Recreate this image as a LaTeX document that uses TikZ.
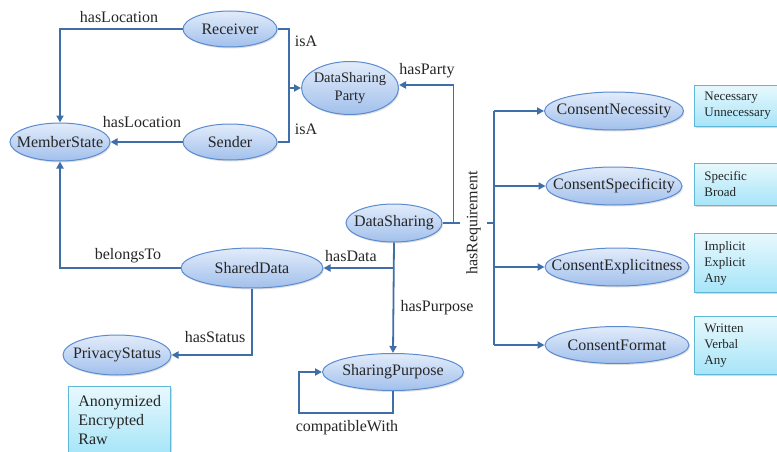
\documentclass[tikz,border=0pt]{standalone}
\usepackage{fontspec}
\setmainfont{Liberation Serif}
\usetikzlibrary{arrows.meta,shapes.geometric,shadows}
\definecolor{clsedge}{HTML}{5B8BD0}
\definecolor{clstop}{HTML}{E2ECFA}
\definecolor{clsbot}{HTML}{A2C0EC}
\definecolor{valedge}{HTML}{5FB8D6}
\definecolor{valtop}{HTML}{E8F8FD}
\definecolor{valbot}{HTML}{A6E5F8}
\definecolor{linkblue}{HTML}{3F6EA8}
\definecolor{inkdark}{HTML}{262626}
\newcommand{\cname}[1]{\makebox[0pt]{#1}}
\tikzset{
  cls/.style  ={ellipse, draw=clsedge, line width=1pt, top color=clstop,
                bottom color=clsbot, inner sep=0pt, minimum height=38pt,
                font=\fontsize{16}{18}\selectfont, text=inkdark,
                drop shadow={opacity=0.25, shadow xshift=1pt, shadow yshift=-1.5pt}},
  vals/.style ={rectangle, draw=valedge, line width=0.8pt, top color=valtop,
                bottom color=valbot, anchor=north west, align=left,
                inner xsep=10pt, inner ysep=0pt, text width=64pt, minimum width=84pt,
                font=\fontsize{13}{16}\selectfont, text=inkdark,
                drop shadow={opacity=0.3, shadow xshift=1.5pt, shadow yshift=-1.5pt}},
  link/.style ={draw=linkblue, line width=1.8pt},
  flow/.style ={link, -{Triangle[length=7pt,width=7pt]}},
  lbl/.style  ={font=\fontsize{16}{18}\selectfont, text=inkdark, inner sep=0pt},
}

\begin{document}
\begin{tikzpicture}[x=1pt, y=-1pt]
\useasboundingbox (0,0) rectangle (777,452);

% ---------------- classes ----------------
\node[cls, minimum width=100pt] (ms)   at ( 60,142) {\cname{MemberState}};
\node[cls, minimum width=94pt, minimum height=36pt] (recv) at (230, 29) {\cname{Receiver}};
\node[cls, minimum width=94pt, minimum height=36pt] (send) at (230,142) {\cname{Sender}};
\node[cls, minimum width=97pt, minimum height=53pt, font=\fontsize{14.5}{18}\selectfont] (dsp) at (350,88)
      {\cname{\begin{tabular}{@{}c@{}}DataSharing\\Party\end{tabular}}};
\node[cls, minimum width=96pt]  (ds) at (394,223) {\cname{DataSharing}};
\node[cls, minimum width=142pt, minimum height=40pt] (sd) at (252,268) {\cname{SharedData}};
\node[cls, minimum width=108pt, minimum height=40pt] (ps) at (117,355) {\cname{PrivacyStatus}};
\node[cls, minimum width=141pt, minimum height=37pt] (sp) at (393,372) {\cname{SharingPurpose}};
\node[cls, minimum width=139pt] (nec)  at (614,111) {\cname{ConsentNecessity}};
\node[cls, minimum width=136pt] (spec) at (614,186) {\cname{ConsentSpecificity}};
\node[cls, minimum width=144pt] (expl) at (617,267) {\cname{ConsentExplicitness}};
\node[cls, minimum width=144pt, minimum height=37pt] (fmt) at (617,345) {\cname{ConsentFormat}};

% ---------------- value lists ----------------
\node[vals, minimum height=41pt] (necvals)  at (694, 85) {Necessary\\Unnecessary};
\node[vals, minimum height=42pt] (specvals) at (694,163) {Specific\\Broad};
\node[vals, minimum height=59pt] (explvals) at (694,233) {Implicit\\Explicit\\Any};
\node[vals, minimum height=58pt] (fmtvals)  at (694,316) {Written\\Verbal\\Any};
\node[vals, minimum width=102pt, text width=82pt, minimum height=68pt,
      font=\fontsize{16}{19}\selectfont] (psvals) at (68,386) {Anonymized\\Encrypted\\Raw};

% ---------------- joints ----------------
\coordinate (isajoin)    at (289,88);
\coordinate (reqbus)     at (494,223);
\coordinate (datajoin)   at (ds.south |- sd.east);
\coordinate (loopcorner) at (299,413);

% ---------------- properties ----------------
\draw[flow] (recv.west) -| (ms.north);
\draw[flow] (send.west) -- (ms.east);
\draw[link] (recv.east) -| (isajoin) |- (send.east);
\draw[flow] (isajoin) -- (dsp.west);
\draw[flow] (ds.east) -- ++(11,0) |- ([yshift=3pt]dsp.east);
\draw[flow] (sd.west) -| (ms.south);
\draw[flow] (ds.south) -- (sp.north);
\draw[flow] (datajoin) -- (sd.east);
\draw[flow] (sd.south) |- (ps.east);
\draw[flow] (sp.south) |- (loopcorner) |- (sp.west);

% ---------------- requirements ----------------
\draw[link] (ds.east) -- (reqbus)
      node[lbl, pos=0.6, rotate=90, fill=white, inner xsep=2pt, inner ysep=6pt] (reqlbl) {hasRequirement};
\draw[link] (reqbus |- nec.west) -- (reqbus |- fmt.west);
\foreach \c in {nec,spec,expl,fmt}
  \draw[flow] (reqbus |- \c.west) -- (\c.west);

% ---------------- labels ----------------
\node[lbl] (lrecvloc) at (119, 17) {hasLocation};
\node[lbl] (lsendloc) at (142,122) {hasLocation};
\node[lbl] (lisa1)    at (306, 41) {isA};
\node[lbl] (lisa2)    at (306,129) {isA};
\node[lbl] (lparty)   at (427, 71) {hasParty};
\node[lbl] (ldata)    at (351,256) {hasData};
\node[lbl] (lpurpose) at (437,308) {hasPurpose};
\node[lbl] (lbelongs) at (128,256) {belongsTo};
\node[lbl] (lstatus)  at (215,337) {hasStatus};
\node[lbl] (lcompat)  at (347,428) {compatibleWith};

\end{tikzpicture}
\end{document}
